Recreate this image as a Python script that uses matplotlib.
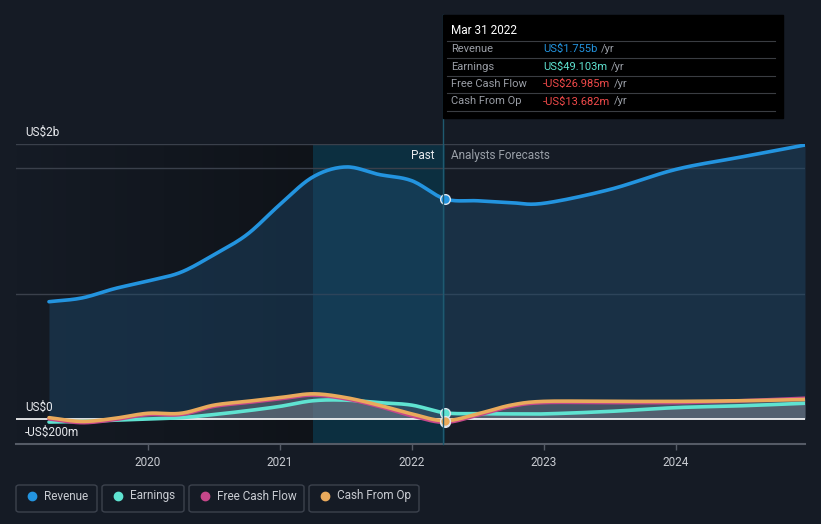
import numpy as np
import matplotlib.pyplot as plt
from matplotlib.lines import Line2D
from matplotlib.patches import FancyBboxPatch, Rectangle

plt.rcParams['font.family'] = ['Roboto', 'DejaVu Sans']

# values in US$ billions
past_years = [2019.25, 2019.5, 2019.75, 2020.0, 2020.25, 2020.5, 2020.75,
              2021.0, 2021.25, 2021.5, 2021.75, 2022.0, 2022.25]
past_revenue = [0.935, 0.965, 1.04, 1.10, 1.17, 1.31, 1.47, 1.71, 1.93, 2.01, 1.95, 1.90, 1.755]
past_earnings = [-0.025, -0.02, -0.01, 0.0, 0.01, 0.035, 0.065, 0.10, 0.145, 0.15, 0.13, 0.11, 0.049]
past_fcf = [0.0, -0.03, -0.005, 0.035, 0.035, 0.10, 0.13, 0.16, 0.19, 0.16, 0.10, 0.025, -0.027]
past_cfo = [0.01, -0.02, 0.005, 0.045, 0.045, 0.11, 0.14, 0.17, 0.20, 0.17, 0.11, 0.04, -0.014]

fc_years = [2022.5, 2022.75, 2023.0, 2023.5, 2024.0, 2024.5, 2024.98]
fc_revenue = [1.74, 1.725, 1.72, 1.83, 1.99, 2.09, 2.185]
fc_earnings = [0.042, 0.04, 0.04, 0.06, 0.09, 0.105, 0.125]
fc_fcf = [0.03, 0.10, 0.13, 0.13, 0.13, 0.145, 0.165]
fc_cfo = [0.04, 0.11, 0.14, 0.14, 0.14, 0.145, 0.155]

year_ticks = [2020, 2021, 2022, 2023, 2024]
now = 2022.25

BG = '#151b25'
C_REV = '#2394df'
C_EARN = '#5fe3d1'
C_FCF = '#c6478a'
C_CFO = '#e9aa5c'


def smooth(x, y, n=16):
    # Catmull-Rom curve through the points, only for drawing
    x = np.asarray(x, float)
    y = np.asarray(y, float)
    px = np.concatenate([[2 * x[0] - x[1]], x, [2 * x[-1] - x[-2]]])
    py = np.concatenate([[2 * y[0] - y[1]], y, [2 * y[-1] - y[-2]]])
    t = np.linspace(0, 1, n, endpoint=False)
    xs, ys = [], []
    for i in range(1, len(px) - 2):
        for p, out in ((px, xs), (py, ys)):
            p0, p1, p2, p3 = p[i - 1], p[i], p[i + 1], p[i + 2]
            out.extend(0.5 * (2 * p1 + (-p0 + p2) * t
                              + (2 * p0 - 5 * p1 + 4 * p2 - p3) * t ** 2
                              + (-p0 + 3 * p1 - 3 * p2 + p3) * t ** 3))
    xs.append(x[-1])
    ys.append(y[-1])
    return np.array(xs), np.array(ys)


years = past_years + fc_years
series = {
    'Revenue': (past_revenue + fc_revenue, C_REV),
    'Earnings': (past_earnings + fc_earnings, C_EARN),
    'Free Cash Flow': (past_fcf + fc_fcf, C_FCF),
    'Cash From Op': (past_cfo + fc_cfo, C_CFO),
}

fig = plt.figure(figsize=(8.21, 5.24), dpi=100, facecolor=BG)
ax = fig.add_axes([16 / 821, 80 / 524, 789 / 821, 300 / 524])
ax.set_facecolor(BG)
ax.set_xlim(2019.0, 2024.98)
ax.set_ylim(-0.2, 2.193)

# darker past area with a gradient towards the highlighted year
grad = np.linspace(0, 1, 256).reshape(1, -1)
ax.imshow(grad, extent=[2019.0, 2021.25, -0.2, 2.193], aspect='auto',
          cmap=plt.matplotlib.colors.LinearSegmentedColormap.from_list('g', [BG, '#0f1319']),
          zorder=0)
ax.axvspan(2021.25, now, color='#0b3346', alpha=0.85, zorder=0.5, lw=0)

for v in [1.0, 2.0, 2.193]:
    ax.axhline(v, color='#3a404b', lw=1, zorder=1)

# fills
xr, yr = smooth(years, series['Revenue'][0])
ax.fill_between(xr, 0, yr, color='#1e4a6e', alpha=0.45, lw=0, zorder=2)
for name in ['Earnings', 'Free Cash Flow', 'Cash From Op']:
    xs, ys = smooth(years, series[name][0])
    ax.fill_between(xs, 0, ys, color='#8a8f99', alpha=0.22, lw=0, zorder=2)

ax.axhline(0, color='white', lw=1.2, zorder=3)

for name in ['Earnings', 'Free Cash Flow', 'Cash From Op', 'Revenue']:
    vals, col = series[name]
    xs, ys = smooth(years, vals)
    ax.plot(xs, ys, color=col, lw=2.6, zorder=4, solid_capstyle='round')

# markers at the current point
for name in ['Revenue', 'Earnings', 'Free Cash Flow', 'Cash From Op']:
    vals, col = series[name]
    ax.plot(now, vals[len(past_years) - 1], 'o', ms=7, color=col,
            mec='#dfe6ee', mew=1, zorder=5)

ax.set_xticks(year_ticks)
ax.set_xticklabels([str(y) for y in year_ticks])
ax.tick_params(axis='x', colors='#c9ccd2', labelsize=8.5, length=4, width=1,
               color='#555b66', pad=5)
ax.set_yticks([])
for s in ['top', 'right', 'left']:
    ax.spines[s].set_visible(False)
ax.spines['bottom'].set_color('#555b66')
ax.spines['bottom'].set_linewidth(1.5)

# y labels
fig.text(25 / 821, 1 - 132 / 524, 'US$2b', color='#e8eaee', fontsize=8.5, va='center')
fig.text(25 / 821, 1 - 407 / 524, 'US$0', color='#e8eaee', fontsize=8.5, va='center')
fig.text(25 / 821, 1 - 432 / 524, '-US$200m', color='#e8eaee', fontsize=8.5, va='center')

fig.text(434 / 821, 1 - 156 / 524, 'Past', color='#e8eaee', fontsize=8.5,
         ha='right', va='center')
fig.text(451 / 821, 1 - 156 / 524, 'Analysts Forecasts', color='#9aa0a8',
         fontsize=8.5, ha='left', va='center')

# vertical line up to the tooltip
fig.add_artist(Line2D([443 / 821, 443 / 821], [1 - 444 / 524, 1 - 15 / 524],
                      color='#1f5a70', lw=1, zorder=6))

# tooltip
fig.add_artist(Rectangle((443 / 821, 1 - 118 / 524), 340 / 821, 103 / 524,
                         transform=fig.transFigure, color='black', zorder=7))
fig.text(451 / 821, 1 - 31 / 524, 'Mar 31 2022', color='white', fontsize=8.5,
         va='center', zorder=8)
rows = [('Revenue', 'US$1.755b', C_REV),
        ('Earnings', 'US$49.103m', C_EARN),
        ('Free Cash Flow', '-US$26.985m', '#f04a4a'),
        ('Cash From Op', '-US$13.682m', '#f04a4a')]
for i, (lab, val, col) in enumerate(rows):
    yy = 1 - (49 + 17.5 * i) / 524
    fig.text(451 / 821, yy, lab, color='#9a9ea6', fontsize=8, va='center', zorder=8)
    t = fig.text(543 / 821, yy, val, color=col, fontsize=8, va='center', zorder=8)
    fig.canvas.draw()
    bb = t.get_window_extent()
    fig.text((bb.x1 + 4) / 821, yy, '/yr', color='#9a9ea6', fontsize=8,
             va='center', zorder=8)
for k in range(5):
    yl = 1 - (41 + 17.4 * k) / 524
    fig.add_artist(Line2D([447 / 821, 775 / 821], [yl, yl], color='#3a3d42',
                          lw=0.8, zorder=8))

# legend pills
pills = [(16, 81, 'Revenue', C_REV), (102, 82, 'Earnings', C_EARN),
         (189, 115, 'Free Cash Flow', C_FCF), (309, 110, 'Cash From Op', C_CFO)]
for x0, w, lab, col in pills:
    fig.add_artist(FancyBboxPatch((x0 / 821, 1 - 512 / 524), w / 821, 27 / 524,
                                  boxstyle='round,pad=0,rounding_size=0.004',
                                  transform=fig.transFigure, fc='none',
                                  ec='#3c424d', lw=1))
    fig.add_artist(Line2D([(x0 + 16) / 821], [1 - 496 / 524], marker='o', ms=6,
                          color=col, lw=0))
    fig.text((x0 + 28) / 821, 1 - 496 / 524, lab, color='#c9ccd2', fontsize=8.5,
             va='center')

fig.savefig('out.png', dpi=100, facecolor=BG)
